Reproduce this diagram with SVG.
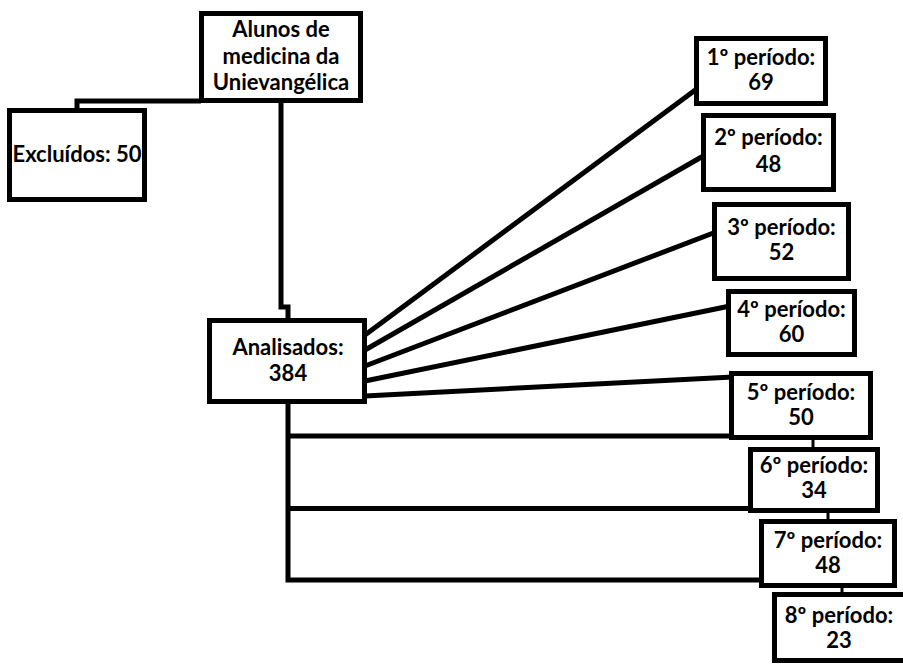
<svg xmlns="http://www.w3.org/2000/svg" width="903" height="664" viewBox="0 0 903 664">
<style>
.box{fill:#fff;stroke:#000;stroke-width:5}
.t{font-family:Lato,"Liberation Sans",sans-serif;font-weight:bold;font-size:22px;fill:#000;text-anchor:middle}
.c{fill:none;stroke:#000;stroke-width:5}
.s{fill:none;stroke:#000;stroke-width:3}
</style>
<rect width="903" height="664" fill="#fff"/>
<g id="connectors">
<path class="c" d="M201 101 H77 V112"/>
<path class="c" d="M281 101 V307 H288 V322"/>
<path class="c" d="M365 335 L698 88"/>
<path class="c" d="M365 350 L705 155"/>
<path class="c" d="M365 366 L716 232"/>
<path class="c" d="M365 381 L730 306"/>
<path class="c" d="M365 396 L733 377"/>
<path class="c" d="M288 402 V580 H761"/>
<path class="c" d="M288 436 H731"/>
<path class="c" d="M288 508.5 H750"/>
<path class="s" d="M813 440 V449"/>
<path class="s" d="M828 512 V521"/>
<path class="s" d="M842 587 V594"/>
</g>
<g id="alunos">
<rect class="box" x="201.5" y="13.5" width="159" height="87"/>
<text class="t" x="281" y="37">Alunos de</text>
<text class="t" x="281" y="64">medicina da</text>
<text class="t" x="281" y="90">Unievangélica</text>
</g>
<g id="excluidos">
<rect class="box" x="9.5" y="110.5" width="135" height="89"/>
<text class="t" x="77" y="162">Excluídos: 50</text>
</g>
<g id="analisados">
<rect class="box" x="209.5" y="320.5" width="155" height="81"/>
<text class="t" x="288" y="355">Analisados:</text>
<text class="t" x="288" y="381">384</text>
</g>
<g id="p1">
<rect class="box" x="696.5" y="38.5" width="129" height="65"/>
<text class="t" x="761" y="65">1º período:</text>
<text class="t" x="761" y="90">69</text>
</g>
<g id="p2">
<rect class="box" x="703.5" y="115.5" width="130" height="74"/>
<text class="t" x="768.5" y="145">2º período:</text>
<text class="t" x="768.5" y="172">48</text>
</g>
<g id="p3">
<rect class="box" x="714.5" y="204.5" width="134" height="74"/>
<text class="t" x="781.5" y="235">3º período:</text>
<text class="t" x="781.5" y="260">52</text>
</g>
<g id="p4">
<rect class="box" x="728.5" y="291.5" width="126" height="63"/>
<text class="t" x="791.5" y="317">4º período:</text>
<text class="t" x="791.5" y="342">60</text>
</g>
<g id="p5">
<rect class="box" x="731.5" y="373.5" width="139" height="64"/>
<text class="t" x="801" y="400">5º período:</text>
<text class="t" x="801" y="425">50</text>
</g>
<g id="p6">
<rect class="box" x="750.5" y="449.5" width="127" height="61"/>
<text class="t" x="814" y="473">6º período:</text>
<text class="t" x="814" y="498">34</text>
</g>
<g id="p7">
<rect class="box" x="761.5" y="521.5" width="133" height="64"/>
<text class="t" x="828" y="548">7º período:</text>
<text class="t" x="828" y="573">48</text>
</g>
<g id="p8">
<rect class="box" x="774.5" y="594.5" width="140" height="66"/>
<text class="t" x="839" y="623">8º período:</text>
<text class="t" x="839" y="648">23</text>
</g>
</svg>
